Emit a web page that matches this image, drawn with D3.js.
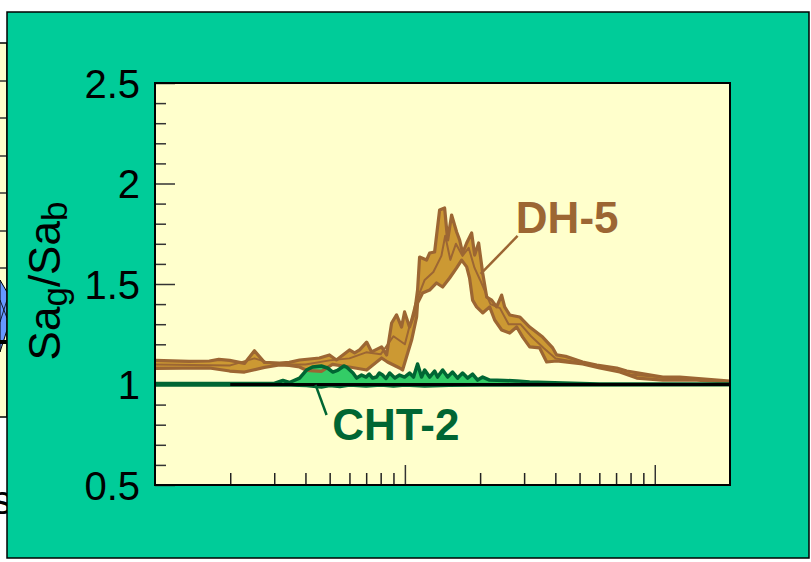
<!DOCTYPE html>
<html><head><meta charset="utf-8">
<script src="https://cdn.jsdelivr.net/npm/d3@7"></script>
<style>
html,body{margin:0;padding:0;background:#fff;}
svg{display:block;}
text{font-family:Arial,"Liberation Sans",sans-serif;}
</style></head>
<body>
<script>
// ---------- data ----------
const yTickLabels = [0.5, 1, 1.5, 2, 2.5];
const yMinorTicks = [0.6,0.7,0.8,0.9,1.1,1.2,1.3,1.4,1.6,1.7,1.8,1.9,2.1,2.2,2.3,2.4];
const xMajorTicks = [1, 10];
const xMinorTicks = [0.2,0.3,0.4,0.5,0.6,0.7,0.8,0.9,2,3,4,5,6,7,8,9];
const xDomain = [0.1, 20];
const yDomain = [0.5, 2.5];
const refLineX = [0.2, 20];
const refLineY = 1;

const dh5Upper = [[0.1,1.12],[0.137,1.115],[0.165,1.117],[0.18,1.125],[0.199,1.12],[0.228,1.105],[0.25,1.168],[0.274,1.11],[0.315,1.107],[0.345,1.11],[0.379,1.122],[0.455,1.132],[0.499,1.147],[0.532,1.122],[0.6,1.172],[0.629,1.157],[0.659,1.172],[0.703,1.211],[0.736,1.162],[0.807,1.187],[0.845,1.147],[0.885,1.306],[0.926,1.346],[0.97,1.286],[0.997,1.361],[1.044,1.286],[1.093,1.356],[1.124,1.47],[1.145,1.634],[1.221,1.619],[1.256,1.654],[1.315,1.659],[1.377,1.868],[1.442,1.878],[1.483,1.719],[1.538,1.843],[1.611,1.759],[1.656,1.719],[1.702,1.654],[1.767,1.704],[1.85,1.754],[1.902,1.644],[1.973,1.704],[2.048,1.555],[2.125,1.435],[2.225,1.42],[2.329,1.386],[2.439,1.445],[2.507,1.386],[2.626,1.346],[2.88,1.336],[3.158,1.286],[3.559,1.236],[3.904,1.182],[4.049,1.147],[4.4,1.14],[5.146,1.112],[5.857,1.097],[7.046,1.082],[7.727,1.067],[10.77,1.037],[12.59,1.037],[20,1.017]];
const dh5Lower = [[0.1,1.08],[0.165,1.082],[0.199,1.067],[0.228,1.062],[0.274,1.085],[0.315,1.097],[0.345,1.095],[0.379,1.087],[0.404,1.07],[0.463,1.065],[0.513,1.10],[0.6,1.087],[0.703,1.072],[0.807,1.132],[0.852,1.112],[0.952,1.082],[0.979,1.072],[1.064,1.221],[1.114,1.336],[1.124,1.405],[1.177,1.455],[1.256,1.47],[1.339,1.505],[1.416,1.485],[1.51,1.53],[1.611,1.58],[1.687,1.619],[1.767,1.585],[1.815,1.53],[1.866,1.42],[1.936,1.386],[2.048,1.356],[2.184,1.386],[2.287,1.321],[2.439,1.271],[2.626,1.256],[2.802,1.286],[2.961,1.236],[3.158,1.187],[3.462,1.182],[3.693,1.112],[4.049,1.117],[5.146,1.102],[6.02,1.082],[7.244,1.062],[8.472,1.032],[10.77,1.022],[14.72,1.022],[20,1.012]];
const dh5Mid = [[0.1,1.10],[0.2,1.095],[0.25,1.13],[0.3,1.10],[0.4,1.10],[0.5,1.12],[0.6,1.13],[0.7,1.16],[0.8,1.15],[0.9,1.24],[1.0,1.20],[1.1,1.40],[1.2,1.52],[1.3,1.56],[1.4,1.64],[1.45,1.74],[1.52,1.62],[1.6,1.70],[1.7,1.64],[1.8,1.68],[1.9,1.58],[2.0,1.52],[2.2,1.40],[2.4,1.38],[2.6,1.30],[2.9,1.30],[3.2,1.24],[3.6,1.18],[4.0,1.13],[5.0,1.11],[6.0,1.09],[8,1.05],[12,1.03],[20,1.015]];

const cht2Upper = [[0.1,1.005],[0.3,1.005],[0.325,1.02],[0.345,1.01],[0.379,1.032],[0.404,1.072],[0.427,1.087],[0.463,1.092],[0.49,1.082],[0.515,1.062],[0.54,1.072],[0.57,1.092],[0.584,1.087],[0.62,1.057],[0.641,1.032],[0.671,1.047],[0.70,1.037],[0.72,1.052],[0.743,1.032],[0.77,1.037],[0.79,1.057],[0.814,1.047],[0.84,1.03],[0.869,1.057],[0.912,1.032],[0.952,1.047],[0.997,1.037],[1.044,1.057],[1.083,1.037],[1.124,1.102],[1.166,1.037],[1.2,1.072],[1.256,1.037],[1.315,1.067],[1.351,1.037],[1.416,1.072],[1.483,1.037],[1.552,1.062],[1.626,1.032],[1.702,1.057],[1.782,1.032],[1.866,1.052],[1.955,1.022],[2.048,1.037],[2.184,1.022],[2.5,1.02],[2.8,1.018],[3.155,1.012],[4.281,1.007],[6,1.003],[20,1.002]];
const cht2Lower = [[0.1,0.998],[0.35,0.998],[0.404,0.995],[0.463,0.988],[0.5,0.995],[0.55,0.99],[0.6,0.997],[0.7,0.992],[0.8,0.997],[0.9,0.993],[1.0,0.997],[1.2,0.993],[1.5,0.996],[2,0.997],[20,0.999]];

const labels = [
  {text:"DH-5", x:2.78, y:1.754, color:"#9C6633"},
  {text:"CHT-2", x:0.512, y:0.724, color:"#006633"}
];
const leaders = [
  {from:[2.825,1.739], to:[2.01,1.55], color:"#9C6633"},
  {from:[0.486,0.848], to:[0.439,0.998], color:"#006633"}
];

// ---------- drawing ----------
const W = 811, H = 562;
const svg = d3.select("body").append("svg").attr("width", W).attr("height", H);

// neighbouring chart fragment (left edge)
svg.append("rect").attr("x",-10).attr("y",43).attr("width",17).attr("height",374)
  .attr("fill","#FFFFCC").attr("stroke","#000").attr("stroke-width",1.5);
[81,118,156,193,231,268].forEach(v=>{
  svg.append("line").attr("x1",0).attr("x2",7).attr("y1",v).attr("y2",v).attr("stroke","#333").attr("stroke-width",1.5);
});
svg.append("path").attr("d","M0,280 L7,292 L7,330 L0,352 Z").attr("fill","#6699FF").attr("stroke","#000").attr("stroke-width",1);
svg.append("path").attr("d","M0,300 L7,318 M0,322 L7,300").attr("stroke","#000").attr("stroke-width",0.8);
svg.append("line").attr("x1",0).attr("x2",7).attr("y1",342).attr("y2",342).attr("stroke","#000").attr("stroke-width",4);
svg.append("text").attr("x",12).attr("y",514).attr("text-anchor","end").attr("font-size",40).text("s");

// teal panel
svg.append("rect").attr("x",7).attr("y",12).attr("width",802).attr("height",546)
  .attr("fill","#00CC99").attr("stroke","#000").attr("stroke-width",1.5);

const plot = {l:155, r:730, t:83, b:485};
const x = d3.scaleLog().domain(xDomain).range([plot.l, plot.r]);
const y = d3.scaleLinear().domain(yDomain).range([plot.b, plot.t]);

svg.append("rect").attr("x",plot.l).attr("y",plot.t).attr("width",plot.r-plot.l).attr("height",plot.b-plot.t)
  .attr("fill","#FFFFCC");

// y axis
const yMajor = svg.append("g").attr("transform",`translate(${plot.l},0)`)
  .call(d3.axisLeft(y).tickValues(yTickLabels).tickSizeInner(-20).tickSizeOuter(0).tickPadding(15)
    .tickFormat(d3.format("~g")));
yMajor.select(".domain").remove();
yMajor.selectAll("line").attr("stroke","#333").attr("stroke-width",1.5);
yMajor.selectAll("text").attr("font-size",40).attr("fill","#000")
  .attr("font-family","Arial, 'Liberation Sans', sans-serif").attr("dy","0.35em");
const yMin = svg.append("g").attr("transform",`translate(${plot.l},0)`)
  .call(d3.axisLeft(y).tickValues(yMinorTicks).tickSizeInner(-11).tickSizeOuter(0).tickFormat(""));
yMin.select(".domain").remove();
yMin.selectAll("line").attr("stroke","#333").attr("stroke-width",1.5);

// x axis (ticks inward, no labels)
const xMaj = svg.append("g").attr("transform",`translate(0,${plot.b})`)
  .call(d3.axisBottom(x).tickValues(xMajorTicks).tickSizeInner(-20).tickSizeOuter(0).tickFormat(""));
xMaj.select(".domain").remove();
xMaj.selectAll("line").attr("stroke","#333").attr("stroke-width",1.5);
const xMin = svg.append("g").attr("transform",`translate(0,${plot.b})`)
  .call(d3.axisBottom(x).tickValues(xMinorTicks).tickSizeInner(-12).tickSizeOuter(0).tickFormat(""));
xMin.select(".domain").remove();
xMin.selectAll("line").attr("stroke","#222").attr("stroke-width",1.5);

const line = d3.line().x(d=>x(d[0])).y(d=>y(d[1]));
const band = (up, lo) => line(up.concat(lo.slice().reverse())) + "Z";

const g = svg.append("g");
// DH-5 fill
g.append("path").attr("d", band(dh5Upper, dh5Lower)).attr("fill","#CC9933").attr("stroke","none");
// CHT-2 fill
g.append("path").attr("d", band(cht2Upper, cht2Lower)).attr("fill","#33CC66").attr("stroke","none");
// DH-5 outlines
[dh5Upper, dh5Lower].forEach(s=>{
  g.append("path").attr("d", line(s)).attr("fill","none").attr("stroke","#9C6633")
   .attr("stroke-width",3.2).attr("stroke-linejoin","round");
});
g.append("path").attr("d", line(dh5Mid)).attr("fill","none").attr("stroke","#9C6633")
  .attr("stroke-width",2).attr("stroke-linejoin","round");
// CHT-2 outlines
[cht2Upper, cht2Lower].forEach(s=>{
  g.append("path").attr("d", line(s)).attr("fill","none").attr("stroke","#006633")
   .attr("stroke-width",3.5).attr("stroke-linejoin","round");
});
// reference line at 1
g.append("line").attr("x1",x(refLineX[0])).attr("x2",x(refLineX[1]))
  .attr("y1",y(refLineY)).attr("y2",y(refLineY)).attr("stroke","#000").attr("stroke-width",3);

// plot frame
svg.append("rect").attr("x",plot.l).attr("y",plot.t).attr("width",plot.r-plot.l).attr("height",plot.b-plot.t)
  .attr("fill","none").attr("stroke","#000").attr("stroke-width",2);

// leaders and labels
leaders.forEach(l=>{
  svg.append("line").attr("x1",x(l.from[0])).attr("y1",y(l.from[1]))
    .attr("x2",x(l.to[0])).attr("y2",y(l.to[1])).attr("stroke",l.color).attr("stroke-width",2.5);
});
labels.forEach(l=>{
  svg.append("text").attr("x",x(l.x)).attr("y",y(l.y)).attr("font-size",44).attr("font-weight","bold")
    .attr("fill",l.color).text(l.text);
});

// y axis title
const yt = svg.append("text").attr("transform","translate(60,281) rotate(-90)")
  .attr("text-anchor","middle").attr("font-size",44).attr("fill","#000");
yt.append("tspan").text("Sa");
yt.append("tspan").attr("font-size",35).attr("dy",7).text("g");
yt.append("tspan").attr("dy",-7).text("/Sa");
yt.append("tspan").attr("font-size",35).attr("dy",7).text("b");
</script>
</body></html>
